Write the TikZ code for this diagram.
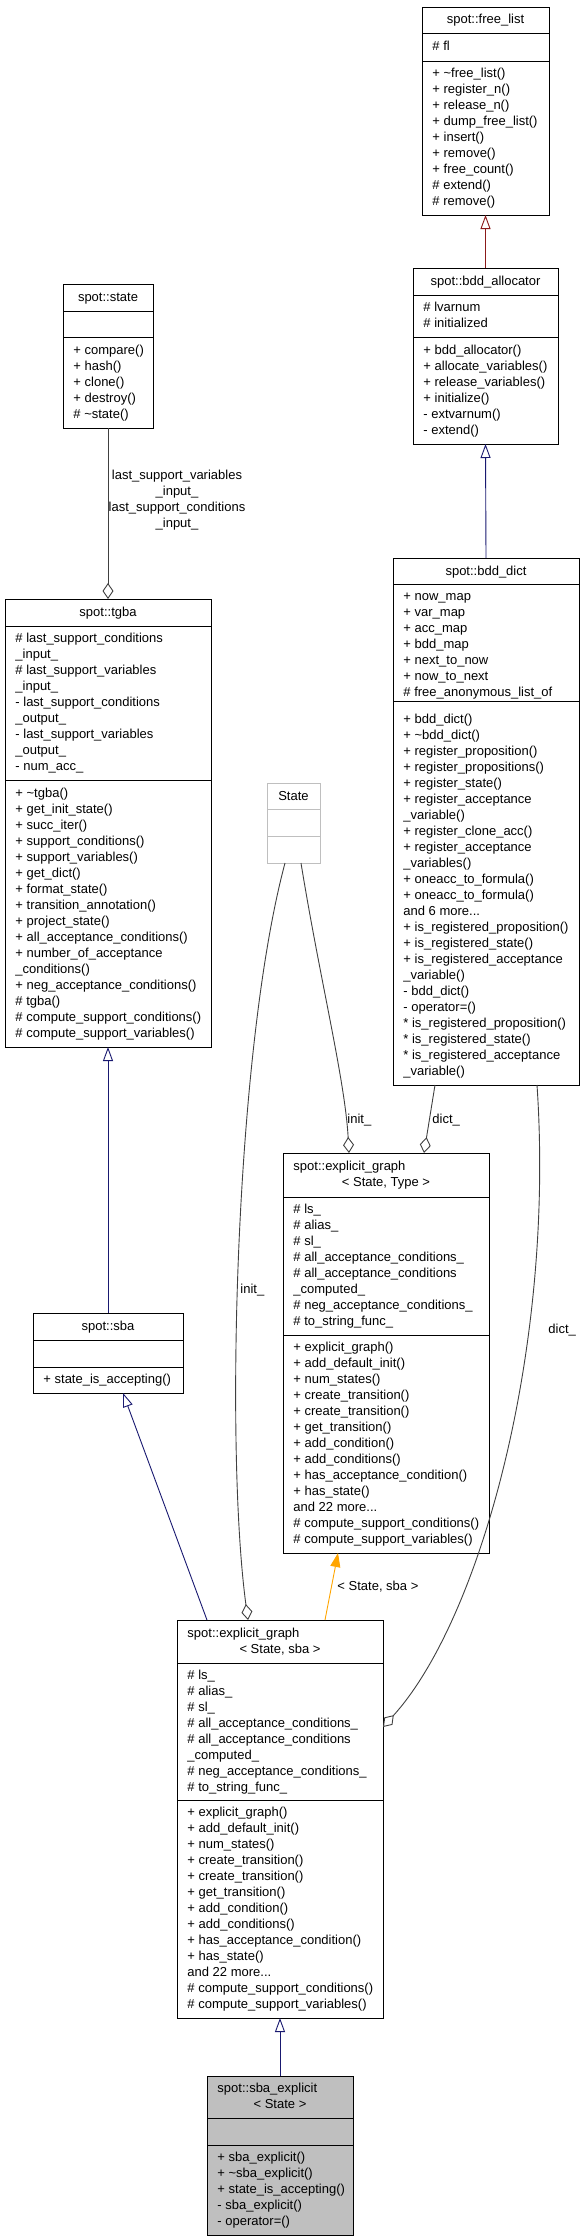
\documentclass[tikz,border=0pt]{standalone}
\usepackage{fontspec}
\setmainfont{Liberation Sans}
\usetikzlibrary{arrows.meta}
\definecolor{inhblue}{HTML}{191970}
\definecolor{inhred}{HTML}{8B1A1A}
\definecolor{tmplorange}{HTML}{FFA500}
\definecolor{boxgrey}{HTML}{BFBFBF}
\definecolor{agggrey}{HTML}{404040}
\newcommand{\umlfont}{\fontsize{13}{16}\selectfont}
\newcommand{\memberlist}[1]{\parbox[t]{250pt}{\raggedright #1}}
% frame of a class: [style]{name}{x}{y}{width}{name part}{attribute part}{operation part}
\newcommand{\classframe}[8][]{%
  \node[classrect,#1,minimum width=#5,minimum height=#6+#7+#8] (#2) at (#3,#4) {};
  \draw[#1] ([yshift=-#6]#2.north west) -- ([yshift=-#6]#2.north east);
  \draw[#1] ([yshift=-#6-#7]#2.north west) -- ([yshift=-#6-#7]#2.north east);}
\tikzset{
  classrect/.style={draw, rectangle, inner sep=0pt, outer sep=0pt, anchor=north west},
  classname/.style={anchor=base, inner sep=0pt, font=\umlfont},
  classname left/.style={anchor=base west, inner sep=0pt, font=\umlfont},
  members/.style={anchor=base west, inner sep=0pt, font=\umlfont},
  edgelabel/.style={inner sep=0pt, font=\umlfont, align=center},
  inherit/.style={draw=inhblue, -{Triangle[open, length=14pt, width=10pt]}},
  inherit red/.style={draw=inhred, -{Triangle[open, length=14pt, width=10pt]}},
  instance/.style={draw=tmplorange, -{Triangle[length=14pt, width=10pt]}},
  aggr/.style={draw=agggrey, -{Diamond[open, length=16pt, width=11pt]}}
}

\begin{document}
\begin{tikzpicture}[x=1pt, y=-1pt, line width=0.9pt]
  \useasboundingbox (0,0) rectangle (583,2240);

  %%%%% spot::free_list %%%%%
  \classframe{freelist}{422}{7}{127}{26}{28}{154}
  \node[classname] (freelist-name) at (485.5,23.5) {spot::free\_list};
  \node[members] (freelist-attr) at (432,50.5) {\memberlist{\# fl}};
  \node[members] (freelist-ops) at (432,77.5) {\memberlist{+ \textasciitilde free\_list()\\+ register\_n()\\+ release\_n()\\+ dump\_free\_list()\\+ insert()\\+ remove()\\+ free\_count()\\\# extend()\\\# remove()}};

  %%%%% spot::bdd_allocator %%%%%
  \classframe{bddalloc}{413}{268}{145}{27}{42}{107}
  \node[classname] (bddalloc-name) at (485.5,285) {spot::bdd\_allocator};
  \node[members] (bddalloc-attr) at (423,311.5) {\memberlist{\# lvarnum\\\# initialized}};
  \node[members] (bddalloc-ops) at (423,354) {\memberlist{+ bdd\_allocator()\\+ allocate\_variables()\\+ release\_variables()\\+ initialize()\\- extvarnum()\\- extend()}};

  %%%%% spot::bdd_dict %%%%%
  \classframe{bdddict}{393}{558}{186}{26}{117}{384}
  \node[classname] (bdddict-name) at (486,575) {spot::bdd\_dict};
  \node[members] (bdddict-attr) at (403,600) {\memberlist{+ now\_map\\+ var\_map\\+ acc\_map\\+ bdd\_map\\+ next\_to\_now\\+ now\_to\_next\\\# free\_anonymous\_list\_of}};
  \node[members] (bdddict-ops) at (403,723) {\memberlist{+ bdd\_dict()\\+ \textasciitilde bdd\_dict()\\+ register\_proposition()\\+ register\_propositions()\\+ register\_state()\\+ register\_acceptance\\\_variable()\\+ register\_clone\_acc()\\+ register\_acceptance\\\_variables()\\+ oneacc\_to\_formula()\\+ oneacc\_to\_formula()\\and 6 more...\\+ is\_registered\_proposition()\\+ is\_registered\_state()\\+ is\_registered\_acceptance\\\_variable()\\- bdd\_dict()\\- operator=()\\{}* is\_registered\_proposition()\\{}* is\_registered\_state()\\{}* is\_registered\_acceptance\\\_variable()}};

  %%%%% spot::state %%%%%
  \classframe{state}{63}{284}{90}{27}{26}{91}
  \node[classname] (state-name) at (108,301) {spot::state};
  \node[members] (state-ops) at (73,354) {\memberlist{+ compare()\\+ hash()\\+ clone()\\+ destroy()\\\# \textasciitilde state()}};

  %%%%% spot::tgba %%%%%
  \classframe{tgba}{5}{599}{206}{27}{154}{267}
  \node[classname] (tgba-name) at (108,616) {spot::tgba};
  \node[members] (tgba-attr) at (15,642.5) {\memberlist{\# last\_support\_conditions\\\_input\_\\\# last\_support\_variables\\\_input\_\\- last\_support\_conditions\\\_output\_\\- last\_support\_variables\\\_output\_\\- num\_acc\_}};
  \node[members] (tgba-ops) at (15,797) {\memberlist{+ \textasciitilde tgba()\\+ get\_init\_state()\\+ succ\_iter()\\+ support\_conditions()\\+ support\_variables()\\+ get\_dict()\\+ format\_state()\\+ transition\_annotation()\\+ project\_state()\\+ all\_acceptance\_conditions()\\+ number\_of\_acceptance\\\_conditions()\\+ neg\_acceptance\_conditions()\\\# tgba()\\\# compute\_support\_conditions()\\\# compute\_support\_variables()}};

  %%%%% spot::sba %%%%%
  \classframe{sba}{33}{1313}{150}{27}{27}{26}
  \node[classname] (sba-name) at (108,1330) {spot::sba};
  \node[members] (sba-ops) at (43,1383.5) {\memberlist{+ state\_is\_accepting()}};

  %%%%% State %%%%%
  \classframe[draw=boxgrey]{tmplstate}{267}{783}{53}{26}{27}{27}
  \node[classname] (tmplstate-name) at (293.5,800) {State};

  %%%%% spot::explicit_graph< State, Type > %%%%%
  \classframe{egtype}{283}{1153}{206}{44}{138}{218}
  \node[classname left] (egtype-name) at (293,1170.5) {spot::explicit\_graph};
  \node[classname] (egtype-args) at (386,1186.5) {< State, Type >};
  \node[members] (egtype-attr) at (293,1213.5) {\memberlist{\# ls\_\\\# alias\_\\\# sl\_\\\# all\_acceptance\_conditions\_\\\# all\_acceptance\_conditions\\\_computed\_\\\# neg\_acceptance\_conditions\_\\\# to\_string\_func\_}};
  \node[members] (egtype-ops) at (293,1351.5) {\memberlist{+ explicit\_graph()\\+ add\_default\_init()\\+ num\_states()\\+ create\_transition()\\+ create\_transition()\\+ get\_transition()\\+ add\_condition()\\+ add\_conditions()\\+ has\_acceptance\_condition()\\+ has\_state()\\and 22 more...\\\# compute\_support\_conditions()\\\# compute\_support\_variables()}};

  %%%%% spot::explicit_graph< State, sba > %%%%%
  \classframe{egsba}{177}{1620}{206}{43}{137}{218}
  \node[classname left] (egsba-name) at (187,1637) {spot::explicit\_graph};
  \node[classname] (egsba-args) at (280,1653) {< State, sba >};
  \node[members] (egsba-attr) at (187,1679) {\memberlist{\# ls\_\\\# alias\_\\\# sl\_\\\# all\_acceptance\_conditions\_\\\# all\_acceptance\_conditions\\\_computed\_\\\# neg\_acceptance\_conditions\_\\\# to\_string\_func\_}};
  \node[members] (egsba-ops) at (187,1816.5) {\memberlist{+ explicit\_graph()\\+ add\_default\_init()\\+ num\_states()\\+ create\_transition()\\+ create\_transition()\\+ get\_transition()\\+ add\_condition()\\+ add\_conditions()\\+ has\_acceptance\_condition()\\+ has\_state()\\and 22 more...\\\# compute\_support\_conditions()\\\# compute\_support\_variables()}};

  %%%%% spot::sba_explicit< State > %%%%%
  \classframe[fill=boxgrey]{sbaexpl}{207}{2076}{146}{42}{27}{90}
  \node[classname left] (sbaexpl-name) at (217,2092.5) {spot::sba\_explicit};
  \node[classname] (sbaexpl-args) at (280,2108.5) {< State >};
  \node[members] (sbaexpl-ops) at (217,2161.5) {\memberlist{+ sba\_explicit()\\+ \textasciitilde sba\_explicit()\\+ state\_is\_accepting()\\- sba\_explicit()\\- operator=()}};

  %%%%% inheritance %%%%%
  \draw[inherit red] (bddalloc.north) -- (freelist.south);
  \draw[inherit] (bdddict.north) -- (bddalloc.south);
  \draw[inherit] (sba.north) -- (tgba.south);
  \draw[inherit] ([xshift=30pt]egsba.north west) -- ([xshift=15pt]sba.south);
  \draw[inherit] (sbaexpl.north) -- (egsba.south);
  \draw[instance] ([xshift=45pt]egsba.north) -- ([xshift=-48pt]egtype.south);
  \node[edgelabel, anchor=west] (instlabel) at (337,1587) {< State, sba >};

  %%%%% members %%%%%
  \draw[aggr] (state.south) -- (tgba.north);
  \node[edgelabel] (statelabel) at (177,500) {last\_support\_variables\\\_input\_\\last\_support\_conditions\\\_input\_};
  \draw[aggr] ([xshift=7.5pt]tmplstate.south) .. controls (320,980) and (345,1080) .. ([xshift=-37pt]egtype.north);
  \node[edgelabel, anchor=west] (initlabel1) at (347,1120) {init\_};
  \draw[aggr] ([xshift=-51pt]bdddict.south) -- ([xshift=38pt]egtype.north);
  \node[edgelabel, anchor=west] (dictlabel1) at (432,1120) {dict\_};
  \draw[aggr] ([xshift=-8.5pt]tmplstate.south) .. controls (235,1050) and (225,1450) .. ([xshift=-32pt]egsba.north);
  \node[edgelabel, anchor=west] (initlabel2) at (240,1290) {init\_};
  \draw[aggr] ([xshift=51pt]bdddict.south) .. controls (555,1350) and (480,1620) .. ([yshift=-107pt]egsba.north east);
  \node[edgelabel, anchor=west] (dictlabel2) at (548,1330) {dict\_};
\end{tikzpicture}
\end{document}
